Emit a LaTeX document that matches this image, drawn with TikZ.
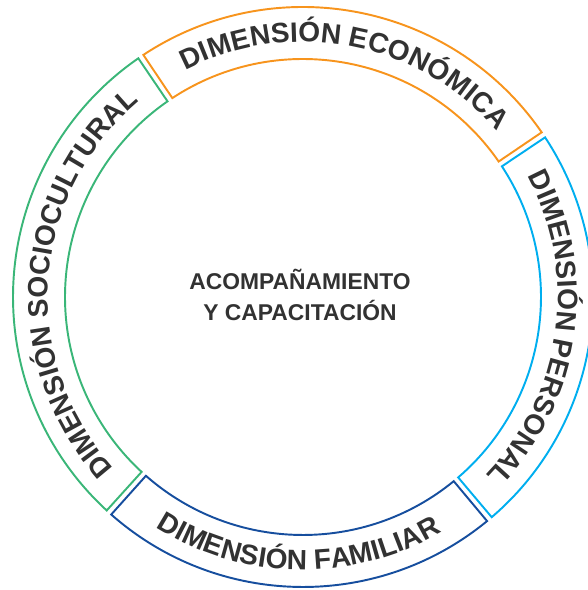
\documentclass[tikz,border=0pt]{standalone}
\usepackage{fontspec}
\setsansfont{Liberation Sans}
\usetikzlibrary{decorations.text}

\definecolor{naranja}{RGB}{247,148,29}
\definecolor{celeste}{RGB}{0,174,239}
\definecolor{azul}{RGB}{22,78,158}
\definecolor{verde}{RGB}{58,182,120}
\definecolor{texto}{RGB}{50,50,50}

\newcommand\ringfont{\fontsize{16}{19}\selectfont\sffamily\bfseries}

\begin{document}
\begin{tikzpicture}[scale=0.02,
    sector/.style = {line width=1.1pt, line join=miter},
    rotulo/.style = {decorate, decoration={text along path, text align=center,
        text color=texto, text format delimiters={|}{|}, text={|\ringfont|#1}}},
    main/.style = {align=center, text=texto,
        font=\fontsize{13}{17.6}\selectfont\sffamily\bfseries}]
  \useasboundingbox (-303,-293) rectangle (284,297);

  % anillo: cuatro sectores
  \draw[sector, naranja] (34.6:290) arc[start angle=34.6, end angle=123.4, radius=290]
    -- (123.3:238) arc[start angle=123.3, end angle=34.7, radius=238] -- cycle;
  \draw[sector, celeste] (-49.4:290) arc[start angle=-49.4, end angle=33.4, radius=290]
    -- (33.3:238) arc[start angle=33.3, end angle=-49.3, radius=238] -- cycle;
  \draw[sector, azul] (-131.4:290) arc[start angle=-131.4, end angle=-50.6, radius=290]
    -- (-50.7:238) arc[start angle=-50.7, end angle=-131.3, radius=238] -- cycle;
  \draw[sector, verde] (124.6:290) arc[start angle=124.6, end angle=227.4, radius=290]
    -- (227.3:238) arc[start angle=227.3, end angle=124.7, radius=238] -- cycle;

  % rotulos curvos
  \path[rotulo={DIMENSIÓN ECONÓMICA}] (124:255) arc[start angle=124, end angle=34, radius=255];
  \path[rotulo={DIMENSIÓN PERSONAL}] (34:255) arc[start angle=34, end angle=-50, radius=255];
  \path[rotulo={DIMENSIÓN FAMILIAR}] (-132:273) arc[start angle=-132, end angle=-50, radius=273];
  \path[rotulo={DIMENSIÓN SOCIOCULTURAL}] (228:255) arc[start angle=228, end angle=124, radius=255];

  \node[main] (centro) at (-3,2) {ACOMPAÑAMIENTO\\Y CAPACITACIÓN};
\end{tikzpicture}
\end{document}
